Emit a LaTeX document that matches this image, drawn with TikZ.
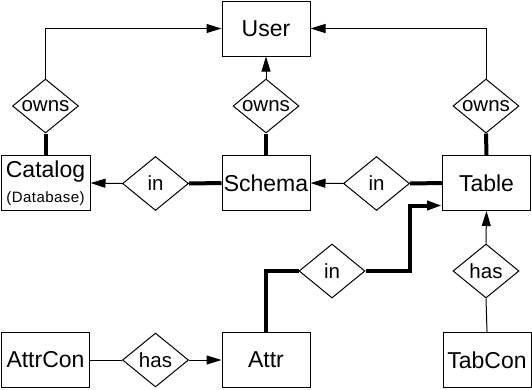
\documentclass[tikz,border=0pt]{standalone}
\usepackage{fontspec}
\setmainfont{Liberation Sans}
\usetikzlibrary{shapes.geometric,arrows.meta,calc}
\begin{document}
\begin{tikzpicture}[x=1pt,y=-1pt,
  entity/.style={draw,line width=1pt,minimum width=88pt,minimum height=55pt,
    inner sep=0pt,font=\fontsize{23}{26}\selectfont},
  rel/.style={draw,diamond,aspect=1.22,line width=1pt,minimum width=66pt,
    minimum height=54pt,inner sep=0pt,font=\fontsize{20.5}{22}\selectfont},
  link/.style={line width=1pt},
  heavy/.style={line width=4pt},
  toarrow/.style={-{Triangle[length=15pt,width=9pt]}},
]
\useasboundingbox (0,0) rectangle (532,389);

% entities
\node[entity] (User) at (266,28.5) {User};
\node[entity,minimum width=89pt,align=center] (Catalog) at (45.5,183)
  {\raisebox{3pt}{Catalog}\\[-4pt]{\fontsize{15}{17}\selectfont\addfontfeature{LetterSpace=3}(Database)}};
\node[entity] (Schema) at (266,183) {Schema};
\node[entity] (Table) at (486.5,183) {Table};
\node[entity] (AttrCon) at (45.5,360) {AttrCon};
\node[entity] (Attr) at (266,360) {Attr};
\node[entity] (TabCon) at (487,360) {TabCon};

% relationships
\node[rel] (ownsC) at (45.5,106) {owns};
\node[rel] (ownsS) at (266,106) {owns};
\node[rel] (ownsT) at (486,106) {owns};
\node[rel] (inSC) at (155.5,183.5) {in};
\node[rel] (inTS) at (376.5,183.5) {in};
\node[rel] (inAT) at (332,271) {in};
\node[rel] (hasA) at (155.5,360) {has};
\node[rel] (hasT) at (486,271) {has};

% ownership
\draw[heavy] (Catalog.north) -- (ownsC.south);
\draw[link,toarrow] (ownsC.north) |- (User.west);
\draw[heavy] (Schema.north) -- (ownsS.south);
\draw[link,toarrow] (ownsS.north) -- (User.south);
\draw[heavy] (Table.north) -- (ownsT.south);
\draw[link,toarrow] (ownsT.north) |- (User.east);

% containment
\draw[heavy] (Schema.west) -- (inSC.east);
\draw[link,toarrow] (inSC.west) -- (Catalog.east);
\draw[heavy] (Table.west) -- (inTS.east);
\draw[link,toarrow] (inTS.west) -- (Schema.east);
\coordinate (bend) at (410,271);
\draw[heavy] (Attr.north) |- (inAT.west);
\draw[heavy,toarrow] (inAT.east) -- (bend) |- ([yshift=-22.5pt]Table.west);

% constraints
\draw[link] (AttrCon.east) -- (hasA.west);
\draw[link,toarrow] (hasA.east) -- (Attr.west);
\draw[link] (TabCon.north) -- (hasT.south);
\draw[link,toarrow] (hasT.north) -- (Table.south);
\end{tikzpicture}
\end{document}
